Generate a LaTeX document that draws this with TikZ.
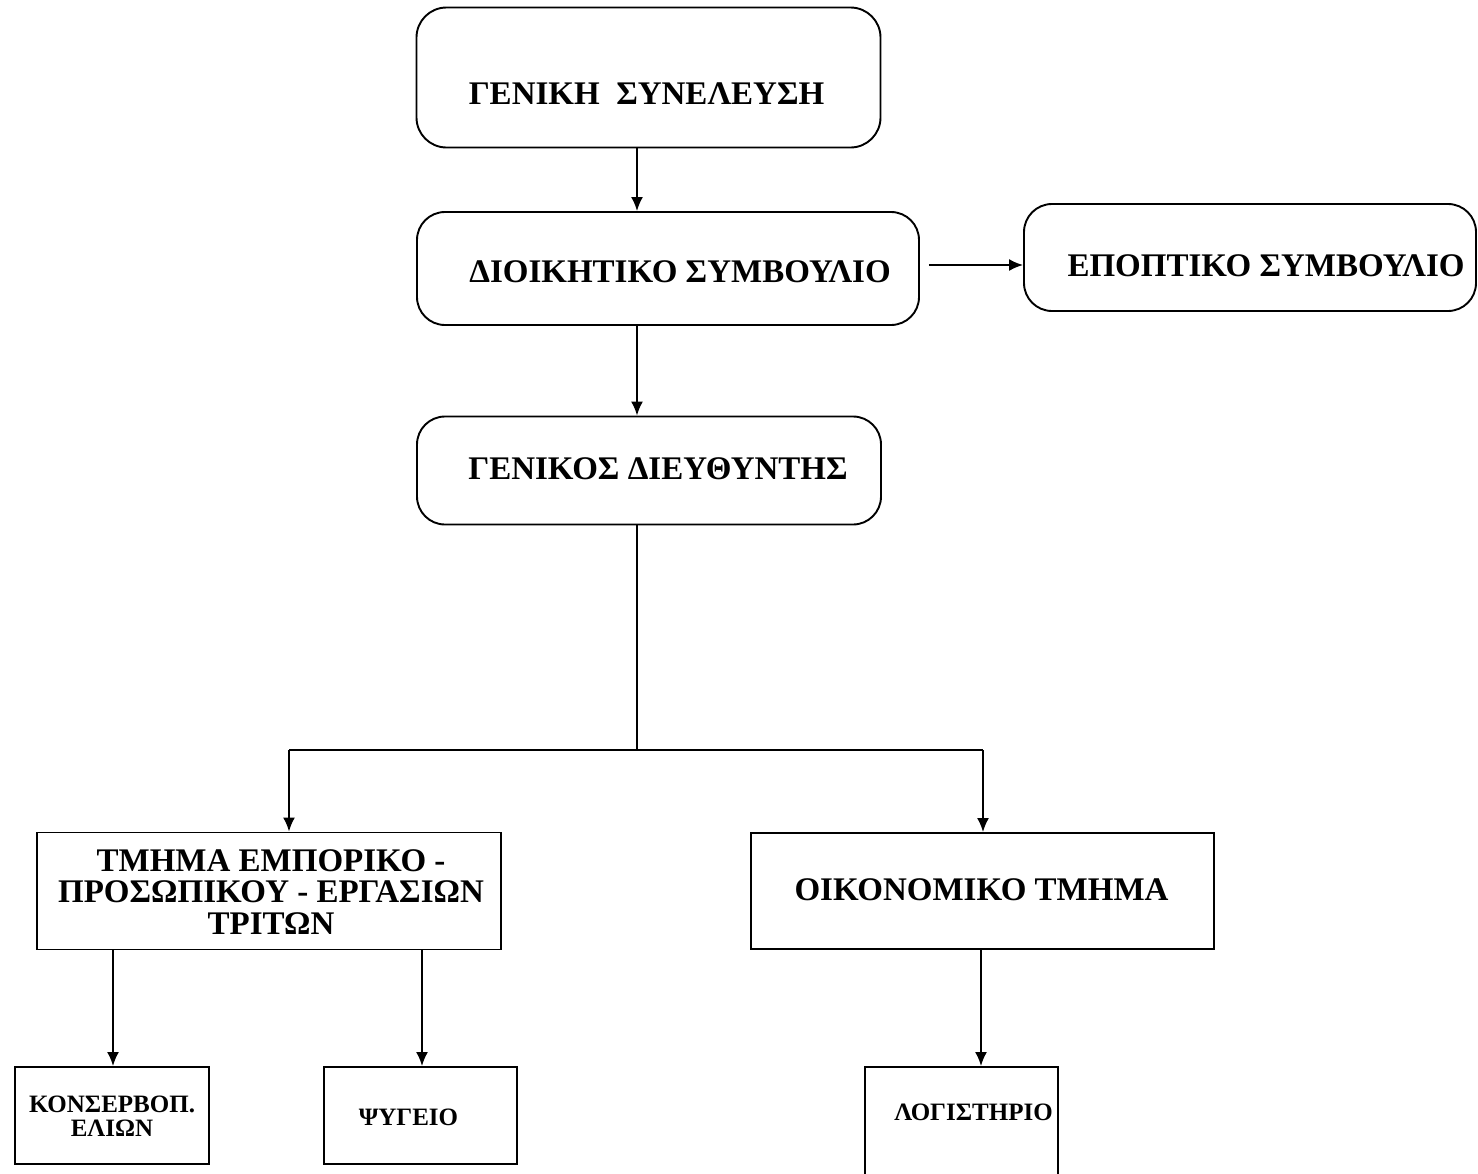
\documentclass[tikz,border=0pt]{standalone}
\usepackage{fontspec}
\setmainfont{Liberation Serif}
\usetikzlibrary{arrows.meta}
\begin{document}
\begin{tikzpicture}[x=1pt,y=-1pt,
  rbox/.style={draw, line width=1.9pt, rounded corners=30pt, inner sep=0pt},
  sbox/.style={draw, line width=1.9pt, inner sep=0pt},
  bigt/.style={font=\bfseries\fontsize{33}{31.5}\selectfont, align=center},
  smallt/.style={font=\bfseries\fontsize{25}{24}\selectfont, align=center},
  arr/.style={line width=1.9pt, -{Latex[length=14pt,width=12pt]}},
  ln/.style={line width=1.9pt}]
\useasboundingbox (0,0) rectangle (1478,1173);
\fill[white] (0,0) rectangle (1478,1173);
\node[rbox, minimum width=464pt, minimum height=140pt,
  label={[bigt, xshift=-2pt, yshift=-16pt]center:ΓΕΝΙΚΗ\ \ ΣΥΝΕΛΕΥΣΗ}] (gs) at (648.5,77.5) {};
\node[rbox, minimum width=502pt, minimum height=113pt, rounded corners=28pt,
  label={[bigt, xshift=12pt, yshift=-3pt]center:ΔΙΟΙΚΗΤΙΚΟ ΣΥΜΒΟΥΛΙΟ}] (ds) at (668,268.5) {};
\node[rbox, minimum width=452pt, minimum height=107pt, rounded corners=28pt,
  label={[bigt, xshift=16pt, yshift=-8pt]center:ΕΠΟΠΤΙΚΟ ΣΥΜΒΟΥΛΙΟ}] (es) at (1250,257.5) {};
\node[rbox, minimum width=464pt, minimum height=108pt, rounded corners=28pt,
  label={[bigt, xshift=9pt, yshift=2pt]center:ΓΕΝΙΚΟΣ\ ΔΙΕΥΘΥΝΤΗΣ}] (gd) at (649,470.5) {};
\node[sbox, minimum width=464pt, minimum height=117pt,
  label={[bigt, xshift=2pt, yshift=-1pt]center:ΤΜΗΜΑ ΕΜΠΟΡΙΚΟ -\\ΠΡΟΣΩΠΙΚΟΥ - ΕΡΓΑΣΙΩΝ\\ΤΡΙΤΩΝ}] (tm) at (269,891) {};
\node[sbox, minimum width=463pt, minimum height=116pt,
  label={[bigt, xshift=-1pt, yshift=1pt]center:ΟΙΚΟΝΟΜΙΚΟ ΤΜΗΜΑ}] (ok) at (982.5,891) {};
\node[sbox, minimum width=194pt, minimum height=97pt,
  label={[smallt, yshift=-1pt]center:ΚΟΝΣΕΡΒΟΠ.\\ΕΛΙΩΝ}] (ke) at (112,1115.5) {};
\node[sbox, minimum width=193pt, minimum height=97pt,
  label={[smallt, xshift=-12pt, yshift=-2pt]center:ΨΥΓΕΙΟ}] (ps) at (420.5,1115.5) {};
\node[sbox, minimum width=193pt, minimum height=140pt,
  label={[smallt, anchor=center, xshift=12pt, yshift=-46pt]north:ΛΟΓΙΣΤΗΡΙΟ}] (lg) at (961.5,1137) {};
\coordinate (cx) at (637,0);
\coordinate (cy) at (0,265);
\coordinate (j) at (637,750);
\coordinate (jl) at (289,750);
\coordinate (jr) at (983,750);
\draw[arr] (gs.south -| cx) -- (ds.north -| cx);
\draw[arr] (ds.south -| cx) -- (gd.north -| cx);
\draw[arr, shorten <=9pt] (ds.east |- cy) -- (es.west |- cy);
\draw[ln] (gd.south -| cx) -- (j);
\draw[ln] (jl) -- (jr);
\draw[arr] (jl) -- (tm.north -| jl);
\draw[arr] (jr) -- (ok.north -| jr);
\coordinate (a1) at (113,0);
\coordinate (a2) at (422,0);
\coordinate (a3) at (981,0);
\draw[arr] (tm.south -| a1) -- (ke.north -| a1);
\draw[arr] (tm.south -| a2) -- (ps.north -| a2);
\draw[arr] (ok.south -| a3) -- (lg.north -| a3);
\end{tikzpicture}
\end{document}
